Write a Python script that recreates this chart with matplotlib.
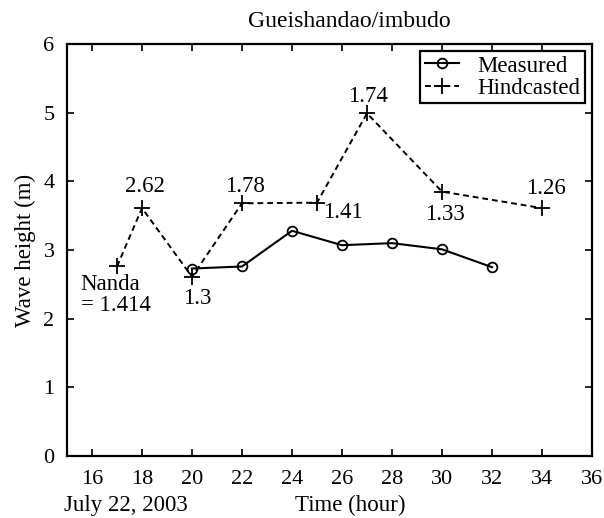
import matplotlib
matplotlib.use("Agg")
import matplotlib.pyplot as plt

plt.rcParams['font.family'] = ['Liberation Serif', 'DejaVu Serif']

meas_t = [20, 22, 24, 26, 28, 30, 32]
meas_h = [2.73, 2.76, 3.28, 3.07, 3.10, 3.01, 2.75]
hind_t = [17, 18, 20, 22, 25, 27, 30, 34]
hind_h = [2.76, 3.61, 2.61, 3.68, 3.69, 4.99, 3.85, 3.61]
ann_text = ["Nanda\n= 1.414", "2.62", "1.3", "1.78", "1.41", "1.74", "1.33", "1.26"]
ann_off = [(-1.46, -0.42), (-0.68, 0.31), (-0.34, -0.32), (-0.67, 0.24), (0.24, -0.14), (-0.74, 0.25), (-0.67, -0.33), (-0.64, 0.28)]
xticks = [16, 18, 20, 22, 24, 26, 28, 30, 32, 34, 36]
yticks = [0, 1, 2, 3, 4, 5, 6]

FS = 16.5
fig = plt.figure(figsize=(6.04, 5.18), dpi=100)
ax = fig.add_axes([67 / 604, 1 - 456 / 518, 525 / 604, 412 / 518])
ax.plot(meas_t, meas_h, '-', color='black', lw=1.5, marker='o', ms=7, mfc='none', mew=1.3, label='Measured')
ax.plot(hind_t, hind_h, '--', color='black', lw=1.4, marker='+', ms=11, mew=1.3, label='Hindcasted', dashes=(3, 2))
for t, h, s, (dx, dy) in zip(hind_t, hind_h, ann_text, ann_off):
    ax.text(t + dx, h + dy, s, fontsize=FS, ha='left', va='center', linespacing=1.0)
ax.set_xlim(15, 36)
ax.set_ylim(0, 6)
ax.set_xticks(xticks)
ax.set_yticks(yticks)
ax.tick_params(direction='in', top=True, right=True, labelsize=16, width=1.2, length=5)
ax.tick_params(axis='x', pad=10)
ax.tick_params(axis='y', pad=9)
for sp in ax.spines.values():
    sp.set_linewidth(1.6)
ax.set_ylabel('Wave height (m)', fontsize=FS)
ax.yaxis.set_label_coords(-0.06, 0.5)
ax.set_title('Gueishandao/imbudo', fontsize=17, pad=12, x=0.537)
fig.text(126 / 604, 0.0135, 'July 22, 2003', fontsize=FS, ha='center', va='baseline')
fig.text(350 / 604, 0.0135, 'Time (hour)', fontsize=FS, ha='center', va='baseline')
leg = ax.legend(loc='upper right', fontsize=FS, fancybox=False, framealpha=1, edgecolor='black',
                handlelength=1.5, borderpad=0.2, labelspacing=0.05, handletextpad=0.8, borderaxespad=0.3)
leg.get_frame().set_linewidth(1.6)
fig.savefig('out.png', dpi=100)
